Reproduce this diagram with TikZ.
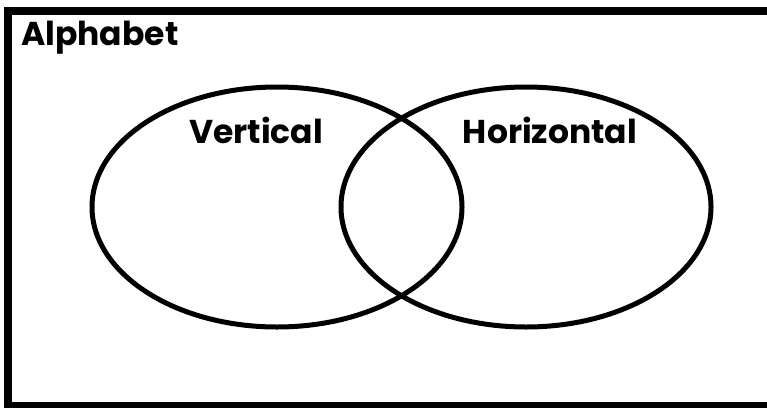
\documentclass[tikz,border=0pt]{standalone}
\usepackage{fontspec}
\setmainfont{Poppins}
\usetikzlibrary{shapes.geometric}

\begin{document}
\begin{tikzpicture}[x=1pt,y=-1pt,
    every node/.style={font=\bfseries},
    set/.style={draw,ellipse,line width=5pt,minimum width=370pt,minimum height=240pt,inner sep=0pt},
    lbl/.style={font=\fontsize{33}{36}\selectfont\bfseries,inner sep=0pt}
]
\useasboundingbox (0,0) rectangle (767,407);
\clip (0,0) rectangle (767,407);
% universe
\draw[line width=8pt] (7.5,10.5) rectangle (790,406);
\node[lbl,anchor=west] (alph) at (21,38) {Alphabet};
% the two sets
\node[set] (vert) at (277,207) {};
\node[set] (horz) at (526,207) {};
\node[lbl] (vlab) at (256,130) {Vertical};
\node[lbl] (hlab) at (550,130) {Horizontal};
\end{tikzpicture}
\end{document}
